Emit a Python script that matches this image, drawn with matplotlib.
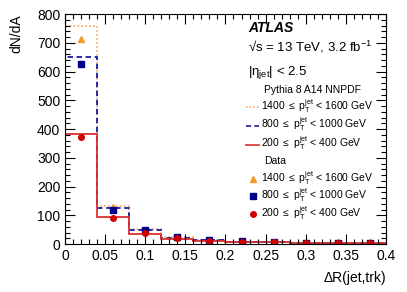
import numpy as np
import matplotlib
matplotlib.use("Agg")
import matplotlib.pyplot as plt
from matplotlib.ticker import MultipleLocator

plt.rcParams['font.family'] = ['Liberation Sans', 'DejaVu Sans']
plt.rcParams['mathtext.fontset'] = 'custom'
plt.rcParams['mathtext.rm'] = 'Liberation Sans'
plt.rcParams['mathtext.it'] = 'Liberation Sans'

bin_edges = [0.0, 0.04, 0.08, 0.12, 0.16, 0.20, 0.24, 0.28, 0.32, 0.36, 0.40]

# Pythia 8 predictions
mc_1400 = [760, 133, 52, 23, 14, 9, 6, 5, 4, 3]
mc_800 = [650, 124, 48, 22, 13, 9, 6, 5, 4, 3]
mc_200 = [384, 94, 36, 17, 11, 8, 6, 4, 3.5, 3]

# Data
data_1400 = [712, 130, 49, 24, 14, 9, 6, 5, 4, 3]
data_800 = [626, 118, 48, 26, 15, 10, 7, 5, 4, 3.5]
data_200 = [373, 90, 39, 20, 12, 8, 6, 4, 3.5, 3]

labels = ["1400 $\\leq$ p$_\\mathregular{T}^\\mathregular{jet}$ < 1600 GeV",
          "800 $\\leq$ p$_\\mathregular{T}^\\mathregular{jet}$ < 1000 GeV",
          "200 $\\leq$ p$_\\mathregular{T}^\\mathregular{jet}$ < 400 GeV"]

line_cols = ['#f9b27a', '#1a1aa0', '#d93030']
mark_cols = ['#f59a30', '#00008b', '#d00000']
styles = [(0, (1, 1.2)), (0, (3, 2)), '-']
markers = ['^', 's', 'o']

edges = np.array(bin_edges)
centers = 0.5 * (edges[:-1] + edges[1:])

fig = plt.figure(figsize=(4.07, 2.92), dpi=100)
ax = fig.add_axes([0.160, 0.164, 0.788, 0.788])

for mc, c, ls in zip([mc_1400, mc_800, mc_200], line_cols, styles):
    ax.stairs(mc, edges, color=c, linestyle=ls, linewidth=1.3)

for d, c, m in zip([data_1400, data_800, data_200], mark_cols, markers):
    ax.plot(centers, d, linestyle='none', marker=m, color=c, markersize=4)

ax.set_xlim(0, 0.4)
ax.set_ylim(0, 800)
ax.xaxis.set_major_locator(MultipleLocator(0.05))
ax.xaxis.set_minor_locator(MultipleLocator(0.01))
ax.yaxis.set_major_locator(MultipleLocator(100))
ax.yaxis.set_minor_locator(MultipleLocator(20))
ax.xaxis.set_major_formatter(plt.FuncFormatter(lambda v, p: ('%g' % round(v, 2))))
ax.tick_params(which='both', direction='in', top=True, right=True, labelsize=10)
ax.tick_params(which='major', length=7, width=0.8)
ax.tick_params(which='minor', length=3.5, width=0.8)
for s in ax.spines.values():
    s.set_linewidth(0.8)

ax.set_xlabel("\u0394R(jet,trk)", fontsize=10, loc='right', labelpad=6)
ax.set_ylabel("dN/dA", fontsize=10, loc='top', labelpad=10)

tx = 0.57
ax.text(tx, 0.92, "ATLAS", transform=ax.transAxes, fontsize=10,
        fontweight='bold', style='italic')
ax.text(tx, 0.835, "\u221As = 13 TeV, 3.2 fb$^{-1}$", transform=ax.transAxes, fontsize=9.5)
ax.text(tx, 0.735, r"$|\eta_\mathregular{jet}|$ < 2.5", transform=ax.transAxes, fontsize=9.5)
ax.text(0.62, 0.655, "Pythia 8 A14 NNPDF", transform=ax.transAxes, fontsize=7.5)
ax.text(0.62, 0.35, "Data", transform=ax.transAxes, fontsize=7.5)

ys_mc = [0.585, 0.503, 0.42]
for y, c, ls, lab in zip(ys_mc, line_cols, styles, labels):
    ax.plot([0.565, 0.603], [y + 0.012, y + 0.012], transform=ax.transAxes,
            color=c, linestyle=ls, linewidth=1.2)
    ax.text(0.61, y, lab, transform=ax.transAxes, fontsize=7.5)

ys_d = [0.27, 0.196, 0.118]
for y, c, m, lab in zip(ys_d, mark_cols, markers, labels):
    ax.plot([0.585], [y + 0.014], transform=ax.transAxes, marker=m,
            color=c, markersize=4, linestyle='none')
    ax.text(0.61, y, lab, transform=ax.transAxes, fontsize=7.5)

fig.savefig("out.png", dpi=100)
